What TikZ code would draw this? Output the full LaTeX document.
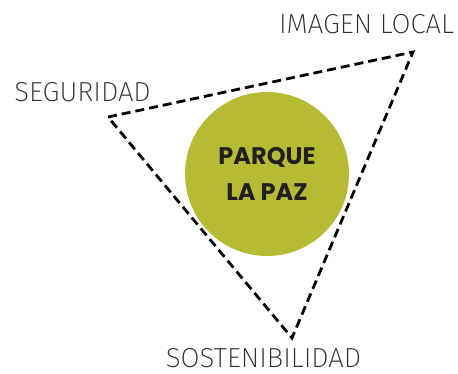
\documentclass[tikz,border=0pt]{standalone}
\usepackage{fontspec}
\newfontfamily\labelfont{Fira Sans ExtraLight}
\newfontfamily\titlefont{Poppins}[UprightFont=* Bold]
\definecolor{parkolive}{HTML}{B7BB34}
\definecolor{labelgray}{HTML}{2E2E2E}
\definecolor{titledark}{HTML}{231F20}

\begin{document}
\begin{tikzpicture}[
  x=1pt,
  y=-1pt,
  line join=miter,
  dashline/.style={draw=black,line width=2.8pt,dash pattern=on 9pt off 5pt},
  corner/.style={font=\labelfont\fontsize{27.5}{27.5}\selectfont,text=labelgray,
    inner sep=0pt,anchor=base},
  park/.style={circle,fill=parkolive,minimum size=164pt,inner sep=0pt,
    font=\titlefont\fontsize{24}{36}\selectfont,text=titledark,align=center}
]
  % Match the artwork frame.
  \useasboundingbox (0,0) rectangle (458,373);

  % Triangle corners.
  \coordinate (seg) at (108,117);
  \coordinate (img) at (413,52);
  \coordinate (sos) at (292,338);

  % Centre circle.
  \node[park] (parque) at (267,174) {PARQUE\\LA PAZ};

  % Dashed triangle around the park.
  \draw[dashline] (seg) -- (img) -- (sos) -- cycle;

  % Corner labels, placed on their baselines.
  \node[corner] (imagen) at (366.5,33) {IMAGEN LOCAL};
  \node[corner] (seguridad) at (82.5,101) {SEGURIDAD};
  \node[corner] (sostenibilidad) at (263.5,367.5) {SOSTENIBILIDAD};
\end{tikzpicture}
\end{document}
